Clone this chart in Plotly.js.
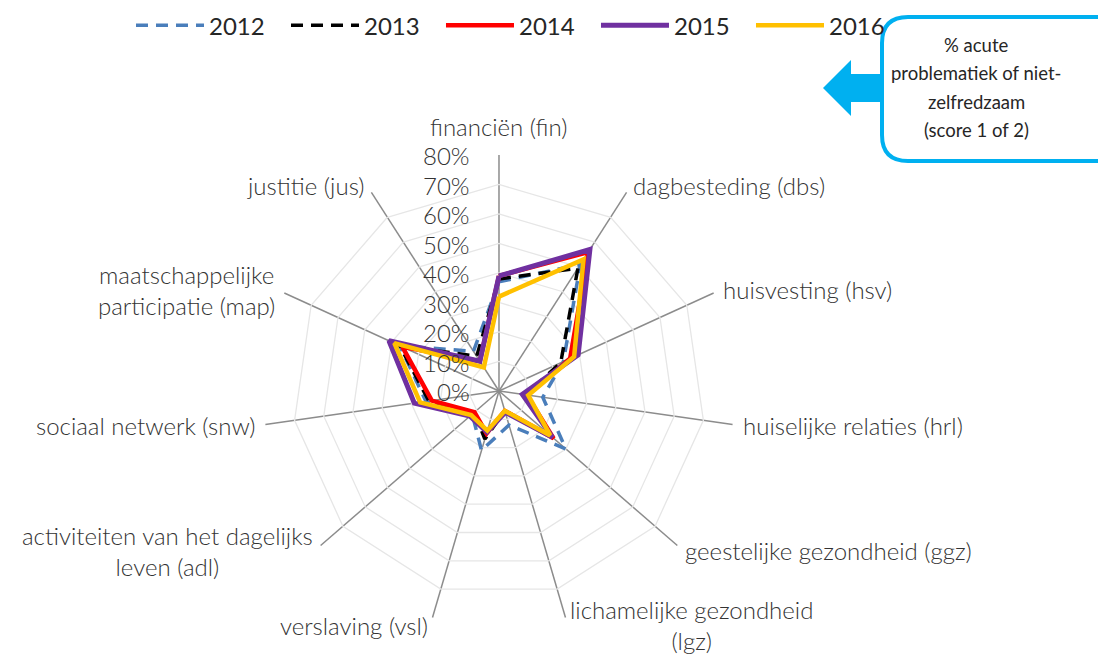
<!DOCTYPE html>
<html>
<head>
<meta charset="utf-8">
<script src="https://cdn.plot.ly/plotly-3.0.1.min.js"></script>
<style>html,body{margin:0;padding:0;background:#fff;}#chart{width:1098px;height:654px;}</style>
</head>
<body>
<div id="chart"></div>
<script>
const categories = ['fin', 'dbs', 'hsv', 'hrl', 'ggz', 'lgz', 'vsl', 'adl', 'snw', 'map', 'jus'];
const categoryLabels = ['financiën (fin)', 'dagbesteding (dbs)', 'huisvesting (hsv)', 'huiselijke relaties (hrl)',
  'geestelijke gezondheid (ggz)', 'lichamelijke gezondheid<br>(lgz)', 'verslaving (vsl)',
  'activiteiten van het dagelijks<br>leven (adl)', 'sociaal netwerk (snw)',
  'maatschappelijke<br>participatie (map)', 'justitie (jus)'];
const years = ['2012', '2013', '2014', '2015', '2016'];
const v2012 = [0.37, 0.51, 0.24, 0.15, 0.30, 0.12, 0.21, 0.12, 0.25, 0.37, 0.16];
const v2013 = [0.38, 0.495, 0.23, 0.09, 0.24, 0.07, 0.17, 0.11, 0.24, 0.37, 0.14];
const v2014 = [0.39, 0.56, 0.265, 0.095, 0.245, 0.07, 0.15, 0.11, 0.23, 0.36, 0.12];
const v2015 = [0.39, 0.57, 0.295, 0.08, 0.24, 0.075, 0.145, 0.13, 0.29, 0.41, 0.12];
const v2016 = [0.32, 0.53, 0.28, 0.10, 0.23, 0.07, 0.14, 0.125, 0.27, 0.39, 0.095];
const radialTicks = [0, 0.1, 0.2, 0.3, 0.4, 0.5, 0.6, 0.7, 0.8];
const radialTickText = ['0%', '10%', '20%', '30%', '40%', '50%', '60%', '70%', '80%'];
const noteLines = ['% acute', 'problematiek of niet-', 'zelfredzaam', '(score 1 of 2)'];

const series = [v2012, v2013, v2014, v2015, v2016];
const styles = [
  {color: '#4A7EBB', width: 3.5, dash: '12px,8px'},
  {color: '#000000', width: 3.5, dash: '12px,8px'},
  {color: '#FF0000', width: 4.5, dash: 'solid'},
  {color: '#7030A0', width: 5, dash: 'solid'},
  {color: '#FFC000', width: 4.5, dash: 'solid'}
];
const close = a => a.concat([a[0]]);
const traces = series.map((s, i) => ({
  type: 'scatterpolar', mode: 'lines', name: years[i],
  r: close(s), theta: close(categories),
  line: Object.assign({}, styles[i]),
  hoverinfo: 'skip'
}));

const W = 1098, H = 654;
const px = x => x / W, py = y => (H - y) / H;
const dom = {x: [0.2395, 0.6694], y: [0.0413, 0.763]};
const rMax = 0.8;
const cx = W * (dom.x[0] + dom.x[1]) / 2;
const cy = H - H * (dom.y[0] + dom.y[1]) / 2;
const R = W * (dom.x[1] - dom.x[0]) / 2;

const font = 'Lato, "Open Sans", sans-serif';
const txt = '#333333';

// axis-end labels placed just beyond each spoke
const labelAnns = categoryLabels.map((t, i) => {
  const a = (90 - i * 360 / categories.length) * Math.PI / 180;
  const c = Math.cos(a), s = Math.sin(a);
  const pad = 8;
  const x = cx + (R + pad) * c, y = cy - (R + pad) * s;
  let xanchor = 'center', yanchor = 'middle', yy = y;
  if (c > 0.1) xanchor = 'left'; else if (c < -0.1) xanchor = 'right';
  if (i === 0) { yanchor = 'bottom'; yy = cy - R - 12; }
  return {xref: 'paper', yref: 'paper', x: px(x), y: py(yy), xanchor, yanchor,
    text: t, showarrow: false, align: 'center',
    font: {family: font, size: 24, color: txt, weight: 300}};
});
// radial tick labels, left of the vertical spoke
const tickAnns = radialTicks.map((v, i) => ({
  xref: 'paper', yref: 'paper', x: px(cx - 27), y: py(cy - R * v / rMax + 1),
  xanchor: 'right', yanchor: 'middle', text: radialTickText[i], showarrow: false,
  font: {family: font, size: 24, color: txt, weight: 300}
}));
const noteAnns = noteLines.map((t, i) => ({
  xref: 'paper', yref: 'paper', x: px(976), y: py(45 + i * 28.3), xanchor: 'center', yanchor: 'middle',
  text: t, showarrow: false, font: {family: font, size: 18.5, color: '#262626', weight: 400}
}));

// rounded rectangle (cut off at right edge) and block arrow
const bx0 = 882, by0 = 17, bx1 = 1130, by1 = 161, rr = 26;
const boxPath = `M ${px(bx0 + rr)},${py(by0)} L ${px(bx1 - rr)},${py(by0)} Q ${px(bx1)},${py(by0)} ${px(bx1)},${py(by0 + rr)} ` +
  `L ${px(bx1)},${py(by1 - rr)} Q ${px(bx1)},${py(by1)} ${px(bx1 - rr)},${py(by1)} L ${px(bx0 + rr)},${py(by1)} ` +
  `Q ${px(bx0)},${py(by1)} ${px(bx0)},${py(by1 - rr)} L ${px(bx0)},${py(by0 + rr)} Q ${px(bx0)},${py(by0)} ${px(bx0 + rr)},${py(by0)} Z`;
const arrowPath = `M ${px(823)},${py(88)} L ${px(851)},${py(60)} L ${px(851)},${py(74)} L ${px(884)},${py(74)} ` +
  `L ${px(884)},${py(102)} L ${px(851)},${py(102)} L ${px(851)},${py(116)} Z`;

const layout = {
  width: W, height: H,
  margin: {l: 0, r: 0, t: 0, b: 0},
  paper_bgcolor: '#ffffff',
  font: {family: font, size: 24, color: txt, weight: 300},
  showlegend: true,
  legend: {orientation: 'h', x: 0.1193, xanchor: 'left', y: 0.995, yanchor: 'top',
    font: {family: font, size: 24, color: '#262626', weight: 400}, entrywidth: 72, itemwidth: 68,
    bgcolor: 'rgba(0,0,0,0)'},
  polar: {
    domain: dom,
    bgcolor: '#ffffff',
    gridshape: 'linear',
    radialaxis: {
      range: [0, rMax], tickvals: radialTicks, showticklabels: false,
      angle: 90, showline: false, ticks: '', gridcolor: '#E6E6E6', gridwidth: 1.3
    },
    angularaxis: {
      rotation: 90, direction: 'clockwise', type: 'category',
      showline: false, ticks: '', showticklabels: false,
      gridcolor: '#8C8C8C', gridwidth: 1.5
    }
  },
  shapes: [
    {type: 'path', xref: 'paper', yref: 'paper', path: boxPath, line: {color: '#00B0F0', width: 4}, fillcolor: '#ffffff', layer: 'above'},
    {type: 'path', xref: 'paper', yref: 'paper', path: arrowPath, line: {width: 0}, fillcolor: '#00B0F0', layer: 'above'}
  ],
  annotations: labelAnns.concat(tickAnns, noteAnns)
};
Plotly.newPlot('chart', traces, layout, {displayModeBar: false, staticPlot: true});
</script>
</body>
</html>
